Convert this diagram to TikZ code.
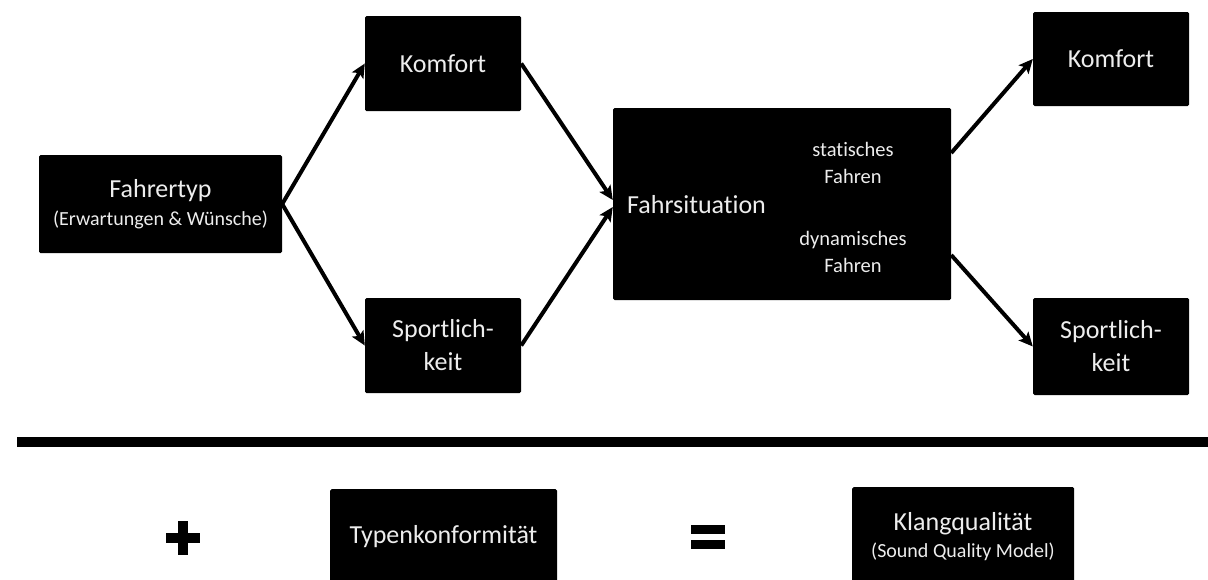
\documentclass[tikz,border=0pt]{standalone}
\usepackage{fontspec}
\setmainfont{Carlito}[Ligatures={NoCommon}]
\usetikzlibrary{arrows.meta}
\begin{document}
\begin{tikzpicture}[x=1pt,y=-1pt,
  box/.style={fill=black,draw=none,rounded corners=1.5pt,inner sep=0pt,text=white!93!black,align=center,font=\fontsize{26}{31}\selectfont},
  small/.style={text=white!93!black,align=center,font=\fontsize{20.5}{27}\selectfont},
  conn/.style={line width=4pt,-{Stealth[length=14pt,width=13pt,inset=3pt]}},
  sym/.style={fill=black,draw=none}]
\useasboundingbox (0,0) rectangle (1208,579);
\node[box,minimum width=243pt,minimum height=98pt] (fahrer) at (160.5,204) {Fahrertyp\\[-3pt]{\fontsize{20}{24}\selectfont(Erwartungen \& Wünsche)}};
\node[box,minimum width=156pt,minimum height=95pt] (komf1) at (443,63.5) {Komfort};
\node[box,minimum width=156pt,minimum height=95pt] (sport1) at (443,345.5) {Sportlich-\\[2pt]keit};
\node[box,minimum width=338pt,minimum height=192pt] (fahrs) at (782,204) {};
\node[text=white!93!black,anchor=west,inner sep=0pt,font=\fontsize{26}{31}\selectfont] (fslabel) at (627,205) {Fahrsituation};
\node[small] (stat) at (853,163) {statisches\\Fahren};
\node[small] (dyn) at (853,252) {dynamisches\\Fahren};
\node[box,minimum width=156pt,minimum height=94pt] (komf2) at (1111,59) {Komfort};
\node[box,minimum width=156pt,minimum height=97pt] (sport2) at (1111,346.5) {Sportlich-\\[2pt]keit};
\draw[conn] (fahrer.east) -- (komf1.west);
\draw[conn] (fahrer.east) -- (sport1.west);
\draw[conn] (komf1.east) -- ([yshift=4pt]fahrs.west);
\draw[conn] (sport1.east) -- ([yshift=-3pt]fahrs.west);
\draw[conn] ([yshift=51pt]fahrs.east) -- (komf2.west);
\draw[conn] ([yshift=-51pt]fahrs.east) -- (sport2.west);
% separator bar
\fill (17,437) rectangle (1208,447);
% plus
\fill[sym] (166,533) rectangle (200,543);
\fill[sym] (178,521) rectangle (188,555);
\node[box,minimum width=227pt,minimum height=92pt,anchor=north west] (typ) at (330,489) {};
\node[text=white!93!black,font=\fontsize{26}{31}\selectfont,inner sep=0pt] (typlabel) at (443.5,537) {Typenkonformität};
% equals
\fill[sym] (691,525) rectangle (725,534);
\fill[sym] (691,540) rectangle (725,549);
\node[box,minimum width=222pt,minimum height=94pt,anchor=north west] (klang) at (852,487) {};
\node[text=white!93!black,align=center,inner sep=0pt,font=\fontsize{26}{31}\selectfont] (klanglabel) at (963,537) {Klangqualität\\[-4pt]{\fontsize{20}{24}\selectfont(Sound Quality Model)}};
\end{tikzpicture}
\end{document}
